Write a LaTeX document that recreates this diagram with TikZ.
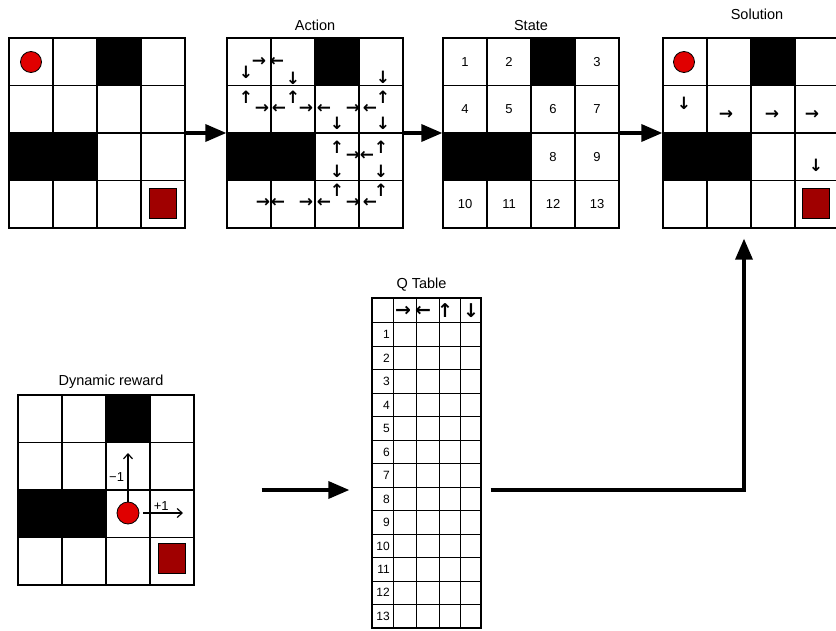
\documentclass[tikz,border=0pt]{standalone}
\usepackage{fontspec}
\setmainfont{Liberation Sans}
\newfontfamily\arrowfont{DejaVu Sans}
\usetikzlibrary{positioning, shapes, arrows.meta}
\definecolor{agentred}{HTML}{E00000}
\definecolor{goalred}{HTML}{A00000}

\begin{document}
\begin{tikzpicture}[x=1pt, y=-1pt,
  gridbox/.style={draw, line width=1.3pt, minimum width=176pt, minimum height=190pt, inner sep=0},
  cell/.style={line width=1.1pt},
  title/.style={font=\fontsize{14.5}{16}\selectfont},
  num/.style={font=\fontsize{13}{15}\selectfont},
  qnum/.style={font=\fontsize{12}{14}\selectfont, inner sep=1pt, anchor=east},
  glyph/.style={font=\arrowfont\bfseries\fontsize{17}{17}\selectfont, inner sep=0},
  agent/.style={circle, draw, line width=0.8pt, fill=agentred, minimum size=21pt, inner sep=0},
  goal/.style={draw, line width=0.8pt, fill=goalred, minimum width=27pt, minimum height=30pt, inner sep=0},
  flow/.style={line width=3.5pt, -{Triangle[length=21pt, width=17pt]}},
  rew/.style={line width=1.2pt, -{Straight Barb[length=5pt, width=9pt]}}]

\useasboundingbox (0,0) rectangle (836,631);

% grid worlds with their walls
\foreach \gx/\gy/\gn in {9/38/g1, 227/38/act, 443/38/st, 663/38/sol, 18/395/dyn}{
  \fill ({\gx+88},\gy) rectangle ({\gx+132},{\gy+47.5});
  \fill (\gx,{\gy+95}) rectangle ({\gx+88},{\gy+142.5});
  \node[gridbox] (\gn) at ({\gx+88},{\gy+95}) {};
  \foreach \k in {1,2,3}{
    \draw[cell] ({\gx+44*\k},\gy) -- ({\gx+44*\k},{\gy+190});
    \draw[cell] (\gx,{\gy+47.5*\k}) -- ({\gx+176},{\gy+47.5*\k});
  }
}

\node[title, above=3pt of act] (tact) {Action};
\node[title, above=3pt of st] (tst) {State};
\node[title, above=14pt of sol, xshift=6pt] (tsol) {Solution};
\node[title, above=2pt of dyn, xshift=5pt] (tdyn) {Dynamic reward};

% start and goal
\node[agent] (a1) at (31,62) {};
\node[goal] (o1) at (163,203) {};
\node[agent] (a2) at (684,62) {};
\node[goal] (o2) at (816,203) {};

% actions
\foreach \x/\y/\g [count=\i] in {246/72/↓, 259/62/→, 277/62/←, 293/78/↓, 383/77/↓,
    246/97/↑, 262/109/→, 279/109/←, 293/97/↑, 306/109/→, 324/109/←, 337/123/↓,
    353/109/→, 370/109/←, 383/97/↑, 383/123/↓,
    337/147/↑, 353/156/→, 367/156/←, 337/171/↓, 381/147/↑, 381/171/↓,
    263/203/→, 278/203/←, 306/203/→, 324/203/←, 337/190/↑, 353/203/→, 370/203/←, 381/190/↑}
  \node[glyph] (ac\i) at (\x,\y) {\g};

% states
\foreach \n/\c/\r in {1/1/1, 2/2/1, 3/4/1, 4/1/2, 5/2/2, 6/3/2, 7/4/2, 8/3/3, 9/4/3,
    10/1/4, 11/2/4, 12/3/4, 13/4/4}
  \node[num] (s\n) at ({443+44*\c-22},{38+47.5*\r-23.75}) {\n};

% solution path
\foreach \x/\y/\g [count=\i] in {684/103/↓, 726/115/→, 772/115/→, 812/115/→, 816/165/↓}
  \node[glyph] (p\i) at (\x,\y) {\g};

% dynamic reward
\node[agent, minimum size=22pt] (a3) at (128,513) {};
\node[goal] (o3) at (172,558) {};
\coordinate (dup) at (128,453);
\coordinate (drt) at (183,513);
\draw[rew] (a3) -- (dup) node[midway, left=0pt, font=\fontsize{13}{15}\selectfont] (lm) {−1};
\draw[rew, shorten <=4pt] (a3) -- (drt) node[midway, above=-1pt, font=\fontsize{13}{15}\selectfont] (lp) {+1};

% Q table
\node[draw, line width=1.3pt, minimum width=109pt, minimum height=330pt, inner sep=0] (qtab) at (426.5,463) {};
\node[title, above=3pt of qtab, xshift=-5pt] (tq) {Q Table};
\foreach \x in {393,416,439,460}
  \draw[line width=1pt] (\x,298) -- (\x,628);
\foreach \k in {0,...,12}
  \draw[line width=1pt] (372,{323+23.46*\k}) -- (481,{323+23.46*\k});
\foreach \x/\g [count=\i] in {403/→, 423/←, 445/↑, 471/↓}
  \node[glyph, font=\arrowfont\bfseries\fontsize{19}{19}\selectfont] (h\i) at (\x,311) {\g};
\foreach \n in {1,...,13}
  \node[qnum] (q\n) at (391,{323+23.46*\n-11.73}) {\n};

% flow
\draw[flow] (g1) -- (act);
\draw[flow] (act) -- (st);
\draw[flow] (st) -- (sol);
\draw[flow, shorten <=67pt, shorten >=22pt] (dyn.east) -- (dyn.east -| qtab.west);
\draw[flow, shorten <=9pt, shorten >=10pt] (dyn.east -| qtab.east) -| ([xshift=-7pt]sol.south);
\end{tikzpicture}
\end{document}
